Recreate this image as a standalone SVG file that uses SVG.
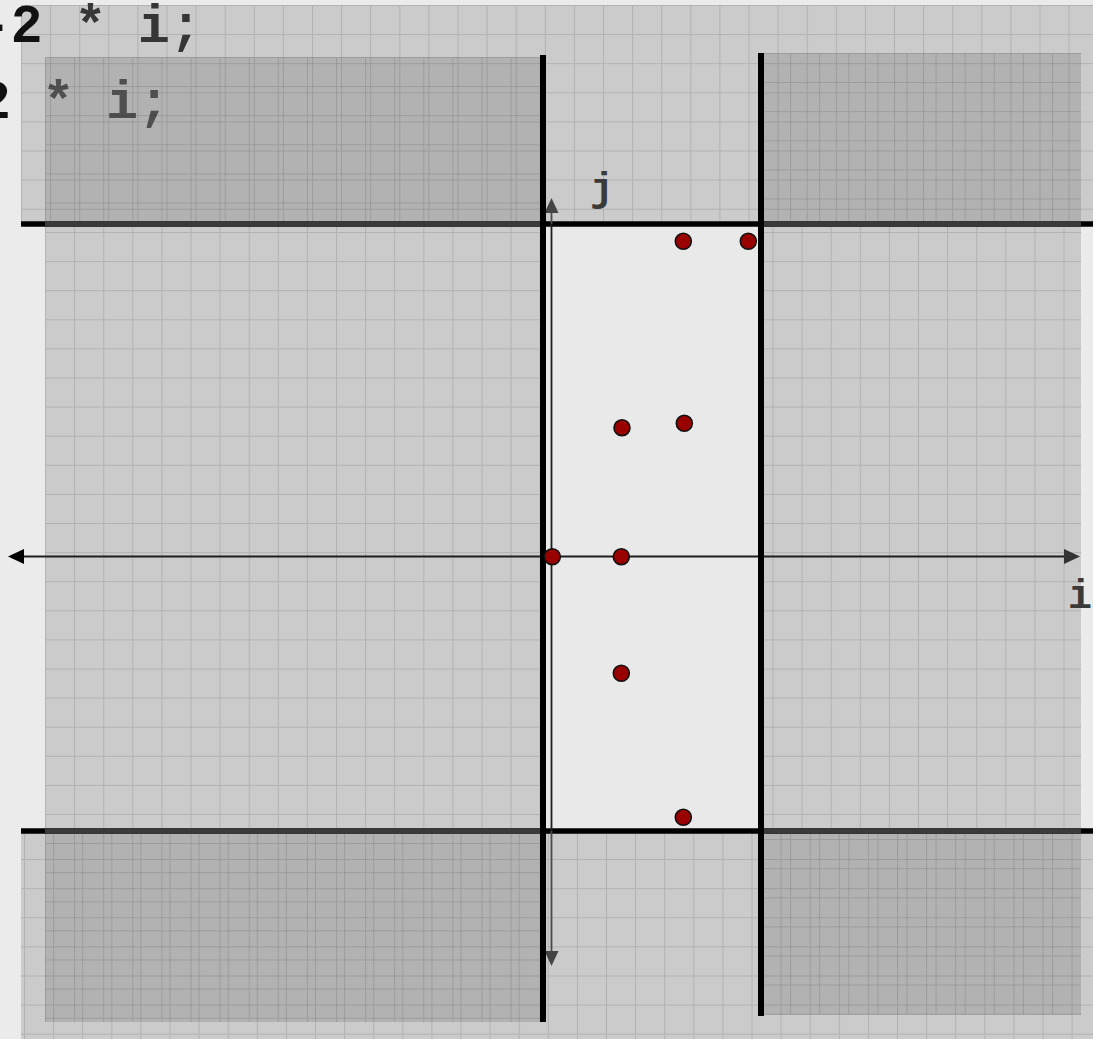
<svg xmlns="http://www.w3.org/2000/svg" width="1093" height="1039" viewBox="0 0 1093 1039">
<style>
.band{fill:#cbcbcb}
.shade{fill:#000;fill-opacity:0.12}
.center{fill:#e9e9e9}
.gl{stroke:#000;stroke-opacity:0.12;stroke-width:1;fill:none}
.thick{stroke:#000;stroke-width:6;fill:none}
.hl{stroke:#000;stroke-width:5.5;fill:none}
.hlg{stroke:#3a3a3a;stroke-width:5.5;fill:none}
.axis{stroke:#1e1e1e;stroke-width:1.8;fill:none}
.axisg{stroke:#4a4a4a;stroke-width:1.8;fill:none}
.pt{fill:#990000;stroke:#111;stroke-width:1.6}
.code{font-family:"Liberation Mono","Courier New",monospace;font-weight:bold;font-size:53px}
.lbl{font-family:"Liberation Mono","Courier New",monospace;font-weight:bold;font-size:40px;fill:#3a3a3a}
</style>
<defs>
<pattern id="gTop" patternUnits="userSpaceOnUse" x="21" y="5" width="29.1" height="29.1"><path class="gl" d="M0.5 0V29.1M0 0.5H29.1"/></pattern>
<pattern id="gMid" patternUnits="userSpaceOnUse" x="45" y="57.4" width="29.1" height="29.1"><path class="gl" d="M0.5 0V29.1M0 0.5H29.1"/></pattern>
<pattern id="gTL" patternUnits="userSpaceOnUse" x="45" y="57" width="29.1" height="29.1"><path class="gl" d="M0.5 0V29.1M0 0.5H29.1"/></pattern>
<pattern id="gTR" patternUnits="userSpaceOnUse" x="761" y="53" width="29.1" height="29.1"><path class="gl" d="M0.5 0V29.1M0 0.5H29.1"/></pattern>
<pattern id="gBot" patternUnits="userSpaceOnUse" x="24" y="830" width="29.1" height="29.1"><path class="gl" d="M0.5 0V29.1M0 0.5H29.1"/></pattern>
<pattern id="gBL" patternUnits="userSpaceOnUse" x="45" y="814" width="29.1" height="29.1"><path class="gl" d="M0.5 0V29.1M0 0.5H29.1"/></pattern>
<pattern id="gBR" patternUnits="userSpaceOnUse" x="761" y="810" width="29.1" height="29.1"><path class="gl" d="M0.5 0V29.1M0 0.5H29.1"/></pattern>
</defs>
<rect width="1093" height="1039" fill="#ebebeb"/>

<g id="panels">
<rect class="band" x="21" y="5" width="1072" height="217"/>
<rect x="21" y="5" width="1072" height="217" fill="url(#gTop)"/>
<rect class="band" x="45" y="222" width="1036" height="608"/>
<rect x="45" y="222" width="1036" height="608" fill="url(#gMid)"/>
<rect class="band" x="21" y="830" width="1072" height="209"/>
<rect x="21" y="830" width="1072" height="209" fill="url(#gBot)"/>
<rect class="center" x="543" y="222" width="218" height="608"/>
</g>

<g id="code-text">
<text class="code" x="-21" y="42"><tspan fill="#111">-2</tspan><tspan fill="#363636"> * i;</tspan></text>
<text class="code" x="-21" y="118"><tspan fill="#111">2</tspan><tspan fill="#5a5a5a"> * i;</tspan></text>
</g>

<g id="shaded-regions">
<rect class="shade" x="45" y="57" width="498" height="164"/>
<rect x="45" y="57" width="498" height="164" fill="url(#gTL)"/>
<rect class="shade" x="761" y="53" width="320" height="168"/>
<rect x="761" y="53" width="320" height="168" fill="url(#gTR)"/>
<rect class="shade" x="45" y="834" width="498" height="188"/>
<rect x="45" y="834" width="498" height="188" fill="url(#gBL)"/>
<rect class="shade" x="761" y="834" width="320" height="181"/>
<rect x="761" y="834" width="320" height="181" fill="url(#gBR)"/>
</g>

<g id="bounds">
<line class="hl" x1="21" y1="224" x2="1093" y2="224"/>
<line class="hlg" x1="45" y1="224" x2="543" y2="224"/>
<line class="hlg" x1="761" y1="224" x2="1081" y2="224"/>
<line class="hl" x1="21" y1="831" x2="1093" y2="831"/>
<line class="hlg" x1="45" y1="831" x2="543" y2="831"/>
<line class="hlg" x1="761" y1="831" x2="1081" y2="831"/>
</g>

<g id="axes">
<line class="axis" x1="20" y1="556.5" x2="1068" y2="556.5"/>
<polygon points="8,556.5 24,549 24,564" fill="#000"/>
<polygon points="1080,556.5 1064,549 1064,564" fill="#333"/>
<line class="axisg" x1="551.5" y1="210" x2="551.5" y2="224"/>
<line class="axis" x1="551.5" y1="224" x2="551.5" y2="831"/>
<line class="axisg" x1="551.5" y1="831" x2="551.5" y2="954"/>
<polygon points="551.5,198 544.5,213 558.5,213" fill="#444"/>
<polygon points="551.5,966 544.5,951 558.5,951" fill="#444"/>
<text class="lbl" x="590" y="201">j</text>
<text class="lbl" x="1068" y="608">i</text>
</g>

<g id="walls">
<line class="thick" x1="543" y1="55" x2="543" y2="1022"/>
<line class="thick" x1="761" y1="53" x2="761" y2="1016"/>
</g>

<g id="points">
<circle id="p1" class="pt" cx="683.3" cy="241.3" r="8"/>
<circle id="p2" class="pt" cx="748.3" cy="241.3" r="8"/>
<circle id="p3" class="pt" cx="622" cy="427.7" r="8"/>
<circle id="p4" class="pt" cx="684.3" cy="423.3" r="8"/>
<circle id="p5" class="pt" cx="552.3" cy="556.7" r="8"/>
<circle id="p6" class="pt" cx="621.3" cy="556.7" r="8"/>
<circle id="p7" class="pt" cx="621.3" cy="673.3" r="8"/>
<circle id="p8" class="pt" cx="683.3" cy="817.3" r="8"/>
</g>
</svg>
